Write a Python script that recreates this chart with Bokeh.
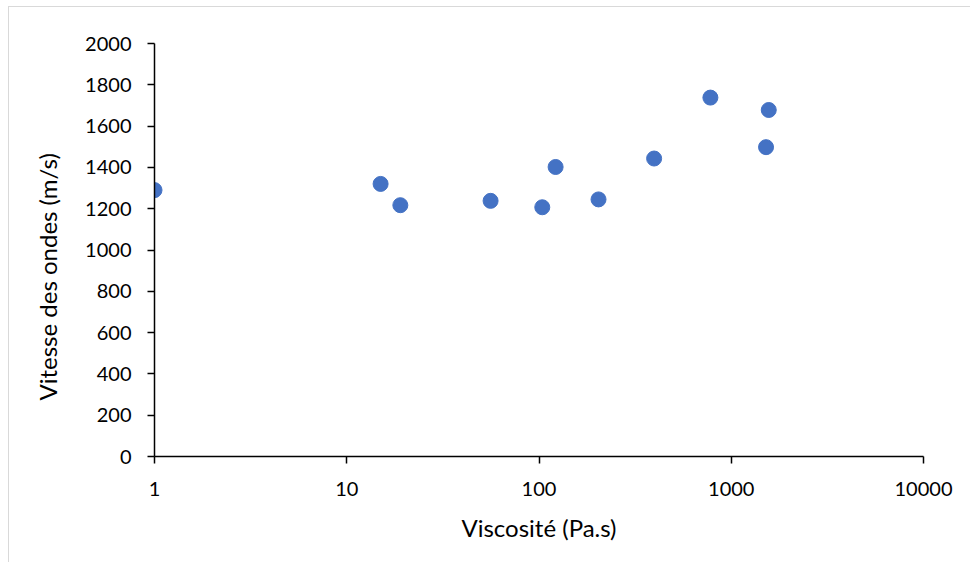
from bokeh.plotting import figure
from bokeh.models import Range1d, FixedTicker, NumeralTickFormatter, Title
from bokeh.embed import file_html
from bokeh.resources import INLINE

viscosity = [1, 15, 19, 56, 104, 122, 204, 397, 779, 1517, 1567]
speed = [1290, 1320, 1217, 1238, 1207, 1402, 1245, 1443, 1738, 1498, 1678]
x_ticks = [1, 10, 100, 1000, 10000]
y_ticks = [0, 200, 400, 600, 800, 1000, 1200, 1400, 1600, 1800, 2000]

FONT = "Lato"

p = figure(width=962, height=556, output_backend="svg", toolbar_location=None,
           x_axis_type="log", x_range=Range1d(1, 10000), y_range=Range1d(0, 2000),
           min_border_left=144, min_border_right=48, min_border_top=36, min_border_bottom=107)
p.styles = {"margin-left": "8px", "margin-top": "6px",
            "border-left": "1px solid #D9D9D9", "border-top": "1px solid #D9D9D9"}
p.outline_line_color = None
p.xgrid.visible = False
p.ygrid.visible = False

p.scatter(viscosity, speed, size=15, fill_color="#4472C4", line_color="#4472C4", line_width=1)

for ax, ticks in ((p.xaxis[0], x_ticks), (p.yaxis[0], y_ticks)):
    ax.ticker = FixedTicker(ticks=ticks, minor_ticks=[])
    ax.formatter = NumeralTickFormatter(format="0")
    ax.axis_line_color = "black"
    ax.axis_line_width = 1.5
    ax.major_tick_line_color = "black"
    ax.major_tick_line_width = 1.5
    ax.major_tick_in = 0
    ax.major_tick_out = 7
    ax.minor_tick_line_color = None
    ax.major_label_text_font = FONT
    ax.major_label_text_font_size = "20px"
    ax.major_label_text_color = "black"

p.xaxis[0].major_label_standoff = 18
p.yaxis[0].major_label_standoff = 16

p.xaxis[0].axis_label = "Viscosité (Pa.s)"
p.xaxis[0].axis_label_text_font = FONT
p.xaxis[0].axis_label_text_font_size = "24px"
p.xaxis[0].axis_label_text_font_style = "normal"
p.xaxis[0].axis_label_text_color = "black"
p.xaxis[0].axis_label_standoff = 14

ytitle = Title(text="Vitesse des ondes (m/s)", align="left", offset=56, standoff=42,
               text_font=FONT, text_font_size="24px", text_font_style="normal",
               text_color="black")
p.add_layout(ytitle, "left")

open("out.html", "w").write(file_html(p, INLINE))
